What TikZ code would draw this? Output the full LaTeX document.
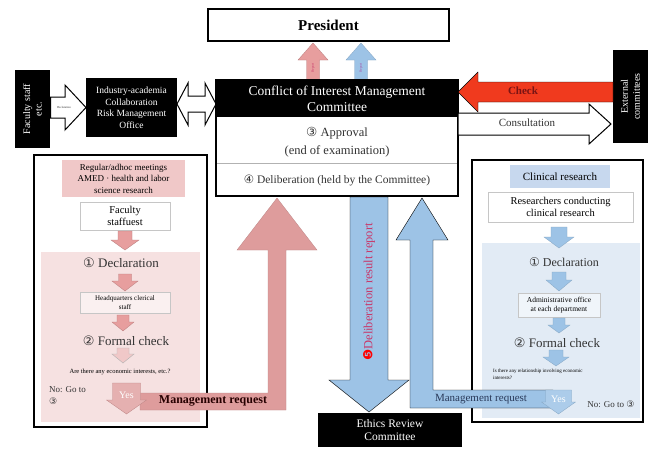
\documentclass[tikz,border=0pt]{standalone}
\usepackage{fontspec}
\setmainfont{Liberation Serif}
\newfontfamily\symf{DejaVu Sans}
\usetikzlibrary{calc}

\definecolor{pinkbg}{HTML}{F6E1E1}
\definecolor{pinkhead}{HTML}{F0C8C8}
\definecolor{pinkarrow}{HTML}{DE9C9C}
\definecolor{pinksmall}{HTML}{E79E9E}
\definecolor{bluebg}{HTML}{E2EBF5}
\definecolor{bluehead}{HTML}{C7D8EE}
\definecolor{bluearrow}{HTML}{9DC3E6}
\definecolor{checkred}{HTML}{F03A1E}
\definecolor{checktxt}{HTML}{7A1414}
\definecolor{reporttxt}{HTML}{C8386A}
\definecolor{darktxt}{HTML}{333333}
\definecolor{bluetxt}{HTML}{2A3A5A}

% vertical block arrow: [style]{x}{y tail}{y head base}{y tip}{shaft half width}{head half width}
\newcommand\blockv[7][]{\draw[#1] ({#2-#6},#3) -- ({#2-#6},#4) -- ({#2-#7},#4) -- (#2,#5) -- ({#2+#7},#4) -- ({#2+#6},#4) -- ({#2+#6},#3) -- cycle;}
% horizontal block arrow: [style]{y}{x tail}{x head base}{x tip}{shaft half width}{head half width}
\newcommand\blockh[7][]{\draw[#1] (#3,{#2-#6}) -- (#4,{#2-#6}) -- (#4,{#2-#7}) -- (#5,#2) -- (#4,{#2+#7}) -- (#4,{#2+#6}) -- (#3,{#2+#6}) -- cycle;}
\newcommand\cnum[1]{{\symf #1}}
\newcommand\fs[2]{\fontsize{#1}{#2}\selectfont}

\begin{document}
\begin{tikzpicture}[x=1pt,y=-1pt,
  box/.style={inner sep=0pt, outer sep=0pt, anchor=north west, align=center},
  blackbox/.style={box, fill=black, text=white},
  bracketbox/.style={box, draw=gray!45, line width=0.6pt},
  txt/.style={inner sep=0pt, align=center, text=darktxt},
  hollow/.style={draw=black, line width=1pt, fill=white, line join=miter},
  pinkarr/.style={fill=pinksmall, draw=pinksmall!80!black, line width=0.3pt},
  bluearr/.style={fill=bluearrow, draw=bluearrow!85!black, line width=0.3pt}]
\useasboundingbox (0,0) rectangle (648,450);
\fill[white] (0,0) rectangle (648,450);

% ---- President ----
\node[box, draw, line width=2pt, minimum width=241, minimum height=32, font=\fs{15}{17}\bfseries] (pres) at (208,9)
  {President};

% ---- reports to the President ----
\blockv[pinkarr]{313}{80}{60}{43}{6.5}{15}
\blockv[bluearr]{361}{80}{60}{43}{6.5}{15}
\node[txt, rotate=90, text=reporttxt, font=\fs{3.5}{4}] (rep1) at (313,68) {Report};
\node[txt, rotate=90, text=violet!70, font=\fs{3.5}{4}] (rep2) at (361,68) {Report};

% ---- left black boxes ----
\node[blackbox, rotate=90, anchor=center, minimum width=78, minimum height=35, font=\fs{10}{11.5}] (fac) at (32.5,109)
  {Faculty staff\\etc.};
\node[blackbox, minimum width=91, minimum height=59, font=\fs{9.5}{11.5}] (risk) at (86,78)
  {Industry-academia\\Collaboration\\Risk Management\\Office};

% declaration from faculty staff to the office
\blockh[hollow]{107.5}{50.5}{65}{86}{10.5}{22.5}
\node[txt, font=\fs{3}{3.5}] (decl0) at (64,107.5) {Declaration};

% two-way arrow between the office and the committee
\draw[hollow] (177,104) -- (188,83) -- (188,96) -- (205,96) -- (205,83) -- (216,104)
  -- (205,125) -- (205,112) -- (188,112) -- (188,125) -- cycle;

% ---- Conflict of Interest Management Committee ----
\node[box, draw, line width=2pt, minimum width=242, minimum height=116] (coi) at (216,80) {};
\node[blackbox, minimum width=242, minimum height=37, font=\fs{13.5}{16}] (coihead) at (216,80)
  {Conflict of Interest Management\\Committee};
\draw[gray!60, line width=0.8pt] (217,163) -- (457,163);
\node[txt, font=\fs{12.5}{18}] (appr) at (337,142)
  {\cnum{③} Approval\\(end of examination)};
\node[txt, font=\fs{11.5}{13}] (delib) at (337,180)
  {\cnum{④} Deliberation (held by the Committee)};

% ---- external committees ----
\node[blackbox, rotate=90, anchor=center, minimum width=93, minimum height=35, font=\fs{10}{12}] (ext) at (630.5,96.5)
  {External\\committees};
\blockh[fill=checkred]{92}{613}{478}{458}{10}{20}
\node[txt, text=checktxt, font=\fs{11}{13}\bfseries] (check) at (523,91) {Check};
\blockh[hollow]{124}{458}{589}{611}{11}{20}
\node[txt, font=\fs{11}{13}] (consult) at (527,123) {Consultation};

% ---- left panel: regular / ad hoc meetings ----
\draw[line width=1.5pt] (34,155) rectangle (207,427);
\fill[pinkbg] (41,252) rectangle (200,422);
\node[box, fill=pinkhead, minimum width=123, minimum height=37, font=\fs{9}{11.5}] (lhead) at (62,160)
  {Regular/adhoc meetings\\AMED · health and labor\\science research};
\node[bracketbox, fill=white, minimum width=90, minimum height=28, font=\fs{10.5}{12}] (lfac) at (80,202)
  {Faculty\\staffuest};
\blockv[pinkarr]{125}{231}{240}{250}{7}{14}
\node[txt, font=\fs{13}{15}] (ldecl) at (121,263) {\cnum{①} Declaration};
\blockv[pinkarr]{125}{274}{281}{291}{6.5}{13}
\node[bracketbox, fill=pinkbg!50!white, minimum width=90, minimum height=21, font=\fs{7}{8.5}] (lhq) at (80,292)
  {Headquarters clerical\\staff};
\blockv[pinkarr]{123}{315}{322}{331}{6}{11}
\node[txt, font=\fs{13}{15}] (lform) at (126,341) {\cnum{②} Formal check};
\blockv[fill=pinkhead, draw=gray!60, line width=0.4pt]{123}{348}{354}{363}{6}{11}
\node[txt, text=black, font=\fs{6.5}{8}] (lq) at (120,372) {Are there any economic interests, etc.?};
\node[txt, align=left, anchor=north west, font=\fs{9}{12}] (lno) at (49,386) {No: Go to\\\cnum{③}};

% management request from the left panel up to the committee
\draw[fill=pinkarrow, draw=pinkarrow!85!black, line width=0.3pt]
  (140,393) -- (268,393) -- (268,250) -- (237,250) -- (277,198) -- (317,250) -- (286,250)
  -- (286,410) -- (140,410) -- cycle;
\blockv[fill=pinkarrow!80!white, draw=pinkarrow!85!black, line width=0.3pt]{126.5}{383}{400}{414}{14}{20}
\node[txt, text=white, font=\fs{10}{12}] (lyes) at (126.5,395) {Yes};
\node[txt, text=black!85!red, font=\fs{12}{14}\bfseries] (lmr) at (213,401) {Management request};

% ---- right panel: clinical research ----
\draw[line width=1.5pt] (472,160) rectangle (643,422);
\fill[bluebg] (482,243) rectangle (640,418);
\node[box, fill=bluehead, minimum width=100, minimum height=23, font=\fs{11}{13}] (rhead) at (510,165)
  {Clinical research};
\node[bracketbox, fill=white, minimum width=145, minimum height=30, font=\fs{10.5}{12}] (rres) at (488,192)
  {Researchers conducting\\clinical research};
\blockv[bluearr]{559}{227}{237}{248}{8}{15}
\node[txt, font=\fs{12}{14}] (rdecl) at (564,262) {\cnum{①} Declaration};
\blockv[bluearr]{559}{272}{280}{291}{7}{13}
\node[bracketbox, fill=bluebg!50!white, minimum width=82, minimum height=24, font=\fs{7.5}{9}] (radm) at (518,293)
  {Administrative office\\at each department};
\blockv[bluearr]{559}{318}{325}{333}{6}{11}
\node[txt, font=\fs{13}{15}] (rform) at (557,343) {\cnum{②} Formal check};
\blockv[bluearr]{556}{350}{357}{366}{7}{13}
\node[txt, text=black, align=left, anchor=north west, font=\fs{5}{6.5}] (rq) at (493,369)
  {Is there any relationship involving economic\\interests?};

% ---- deliberation result report to the Ethics Review Committee ----
\blockv[fill=bluearrow]{369}{197}{380}{412}{19}{40}
\node[txt, rotate=90, font=\fs{12.5}{14}] (rpt) at (369,292)
  {{\color{red}\symf ❺}\textcolor{reporttxt}{Deliberation result report}};

% management request from clinical research up to the committee
\draw[fill=bluearrow]
  (410,408) -- (410,240) -- (396,240) -- (422,198) -- (448,240) -- (433,240)
  -- (433,390) -- (553,390) -- (553,408) -- cycle;
\node[txt, text=bluetxt, font=\fs{11}{13}] (rmr) at (481,399) {Management request};
\blockv[fill=bluearrow!85!white, draw=bluearrow!85!black, line width=0.3pt]{558.5}{390}{402}{414}{13}{17}
\node[txt, text=white, font=\fs{10}{12}] (ryes) at (558.5,399) {Yes};
\node[txt, font=\fs{9}{11}] (rno) at (611,404) {No: Go to \cnum{③}};

% ---- Ethics Review Committee ----
\node[blackbox, minimum width=144, minimum height=34, font=\fs{11.5}{13.5}] (ethics) at (318,413)
  {Ethics Review\\Committee};
\end{tikzpicture}
\end{document}
